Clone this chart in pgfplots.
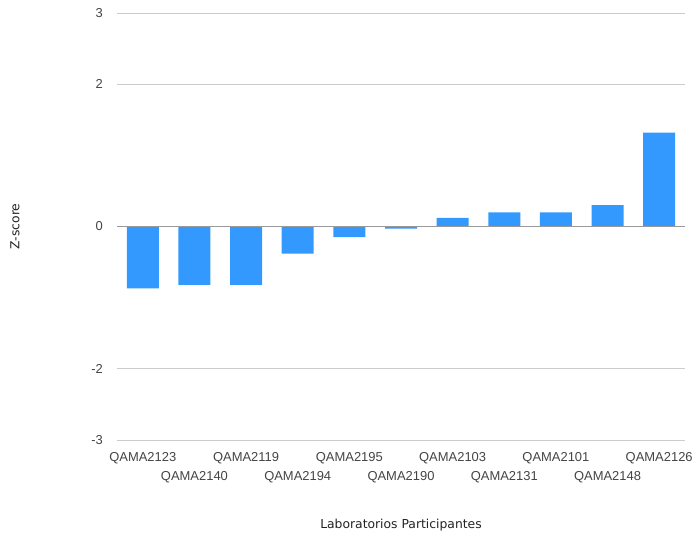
\documentclass[border=0pt]{standalone}
\usepackage{pgfplots}
\pgfplotsset{compat=1.18}
\usepackage{fontspec}
\setmainfont{Liberation Sans}
\newfontfamily\titlefont{DejaVu Sans}
\definecolor{barblue}{RGB}{51,153,255}
\definecolor{gridgray}{RGB}{204,204,204}
\definecolor{zerogray}{RGB}{153,153,153}
\definecolor{ticktext}{RGB}{68,68,68}
\definecolor{titletext}{RGB}{34,34,34}
\begin{document}
\begin{tikzpicture}
\useasboundingbox (0,0) rectangle (695bp,537bp);
\begin{axis}[
  at={(117bp,97bp)}, anchor=south west,
  scale only axis, width=568bp, height=427bp,
  xmin=-0.5, xmax=10.5, ymin=-3, ymax=3,
  axis line style={draw=none},
  tick style={draw=none},
  ytick={-3,-2,0,2,3},
  ymajorgrids, grid style={gridgray, line width=1bp},
  xtick={0,2,4,6,8,10},
  xticklabels={QAMA2123,QAMA2119,QAMA2195,QAMA2103,QAMA2101,QAMA2126},
  extra x ticks={1,3,5,7,9},
  extra x tick labels={QAMA2140,QAMA2194,QAMA2190,QAMA2131,QAMA2148},
  extra x tick style={xticklabel style={yshift=-19.4bp}, grid=none},
  xticklabel style={anchor=north, inner sep=0pt, yshift=-12bp, font=\fontsize{13}{13}\selectfont, text=ticktext},
  yticklabel style={anchor=east, inner sep=0pt, xshift=-14bp, font=\fontsize{13}{13}\selectfont, text=ticktext},
  /pgf/number format/assume math mode=true,
  ylabel={Z-score},
  ylabel style={at={(axis description cs:0,0.5)}, anchor=center, rotate=0, yshift=102bp, font=\titlefont\fontsize{12.4}{12.4}\selectfont, text=titletext},
  xlabel={Laboratorios Participantes},
  xlabel style={at={(axis description cs:0.5,0)}, anchor=center, yshift=-85.5bp, font=\titlefont\fontsize{12.4}{12.4}\selectfont, text=titletext},
  clip=false,
]
\addplot[ybar, bar width=32bp, fill=barblue, draw=none] coordinates {
  (0,-0.87) (1,-0.82) (2,-0.82) (3,-0.38) (4,-0.15) (5,-0.03)
  (6,0.12) (7,0.20) (8,0.20) (9,0.30) (10,1.32)
};
\draw[zerogray, line width=1.5bp] (axis cs:-0.5,0) -- (axis cs:10.5,0);
\end{axis}
\end{tikzpicture}
\end{document}
